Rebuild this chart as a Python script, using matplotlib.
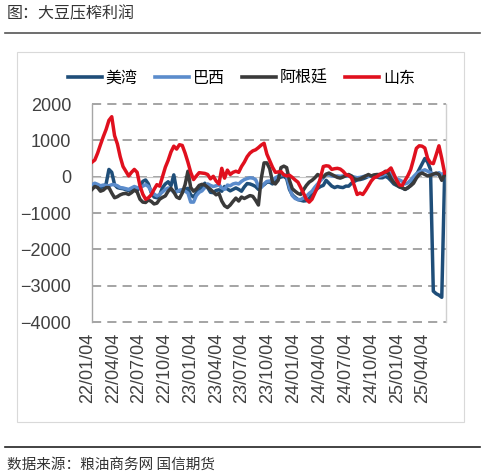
import numpy as np
import pandas as pd
import matplotlib
matplotlib.use("Agg")
from matplotlib import pyplot as plt
from matplotlib import dates as mdates
from matplotlib import transforms
from matplotlib.lines import Line2D
from matplotlib.patches import Rectangle

plt.rcParams['font.family'] = ['Liberation Sans', 'Noto Sans CJK SC', 'DejaVu Sans']

# 10-day sampled crush margin, yuan/ton
dates = pd.date_range("2022-01-04", periods=126, freq="10D")

us_gulf = [-300, -220, -250, -300, -280, -200, 200, 120, -220, -300,
           -320, -330, -360, -380, -350, -330, -380, -300, -130, -90,
           -200, -440, -560, -580, -500, -300, -200, -140, -250, 50,
           -380, -400, -370, -350, -320, -500, -560, -450, -330, -300,
           -180, -300, -430, -440, -380, -360, -400, -270, -340, -390,
           -350, -310, -350, -400, -280, -190, -200, -230, -270, -350,
           -270, -220, -150, -150, -200, -120, -40, -10, 10, -50,
           -350, -500, -570, -630, -650, -670, -660, -600, -490, -400,
           -320, -270, -240, -100, -180, -260, -300, -270, -290, -300,
           -260, -260, -180, -130, -90, -80, -60, -30, 10, 10,
           10, -10, -30, -30, 10, -30, -110, -200, -240, -280,
           -310, -350, -310, -230, -120, 50, 200, 350, 500, 400,
           200, -3150, -3220, -3260, -3320, 20]

brazil = [-220, -180, -210, -250, -230, -240, -250, -220, -220, -250,
          -300, -310, -330, -350, -310, -270, -300, -310, -260, -220,
          -270, -400, -480, -530, -490, -420, -350, -310, -350, -430,
          -420, -370, -360, -400, -450, -700, -700, -520, -430, -390,
          -300, -200, -240, -270, -250, -220, -310, -350, -230, -250,
          -200, -180, -200, -130, -80, -50, -30, -40, -80, -260,
          -300, -200, -130, -120, -100, -30, 10, 50, 60, 30,
          -300, -520, -600, -630, -630, -580, -540, -460, -400, -290,
          -200, -110, -30, 60, 50, 20, 10, 20, 10, 20,
          10, 20, 10, -10, -30, -20, 0, 20, 10, 20,
          10, 20, 10, 40, 70, 150, 70, -10, -60, -90,
          -130, -200, -170, -90, 0, 80, 120, 160, 190, 150,
          110, 80, 70, 110, 60, 100]

argentina = [-350, -270, -300, -400, -370, -300, -300, -450, -580, -550,
             -500, -470, -460, -490, -440, -370, -420, -620, -700, -710,
             -640, -680, -750, -730, -620, -570, -530, -400, -320, -420,
             -560, -600, -450, -220, 150, -300, -400, -340, -240, -210,
             -230, -290, -350, -420, -500, -460, -670, -800, -850, -780,
             -680, -590, -670, -560, -600, -560, -520, -540, -650, -780,
             -50, 380, 380, 220, -150, -200, -100, 250, 290, 250,
             -100, -330, -400, -460, -490, -360, -240, -150, -100, -30,
             60, 20, -10, 70, 100, 60, 20, -20, -40, -10,
             30, 60, 20, -60, -80, -60, -20, 20, 60, 20,
             50, 60, 60, 80, 150, 100, -50, -150, -220, -280,
             -300, -350, -300, -250, -180, -40, 60, 100, 60, 20,
             40, 70, 100, 60, -100, 50]

shandong = [400, 460, 650, 880, 1100, 1300, 1550, 1650, 1130, 900,
            550, 280, 150, 20, 120, 200, 120, -250, -480, -620,
            -580, -500, -350, -220, -260, 0, 260, 450, 680, 840,
            760, 880, 860, 650, 400, 120, -80, 20, 110, 100,
            90, 60, -60, 10, -120, -200, 230, -40, 180, 60,
            120, 150, 120, 280, 400, 550, 650, 710, 740, 800,
            870, 920, 620, 440, 260, 120, 130, 140, 50, 20,
            40, -20, -90, -150, -300, -460, -620, -700, -620, -450,
            -280, -30, 280, 300, 290, 200, 220, 230, 210, 150,
            60, 30, -30, -250, -490, -450, -490, -380, -250, -120,
            -30, 0, 60, 100, 130, 170, 240, 70, -100, -230,
            -240, -100, 30, 200, 480, 780, 850, 840, 790, 500,
            380, 360, 600, 850, 500, 100]

names = ["美湾", "巴西", "阿根廷", "山东"]
colors = ["#1f4e79", "#5b8ccc", "#3a3a3a", "#e0101e"]
series = [us_gulf, brazil, argentina, shandong]

fig = plt.figure(figsize=(4.86, 4.73), dpi=100)

# outer decorations
fig.add_artist(Line2D([0.0103, 0.9877], [0.930, 0.930], color="#555555", lw=1.2))
fig.add_artist(Line2D([0.0103, 0.9877], [0.054, 0.054], color="#222222", lw=1.2))
fig.add_artist(Rectangle((0.035, 0.108), 0.92, 0.782, fill=False,
                         edgecolor="#d9d9d9", lw=0.8))
fig.text(0.0144, 0.970, "图：大豆压榨利润", fontsize=11.5, color="#333333",
         va="center", ha="left", family=["Noto Sans CJK SC", "DejaVu Sans"])
fig.text(0.0144, 0.017, "数据来源：粮油商务网 国信期货", fontsize=10.5, color="#333333",
         va="center", ha="left", family=["Noto Sans CJK SC", "DejaVu Sans"])

ax = fig.add_axes([0.1893, 0.3192, 0.7284, 0.4609])

ax.axhline(0, color="#c8c8c8", lw=0.8, zorder=1)
for i, (name, vals) in enumerate(zip(names, series)):
    ax.plot(dates, vals, color=colors[i], lw=2.5, label=name, zorder=2 + i,
            solid_joinstyle="round")

ax.set_ylim(-4000, 2000)
ax.set_yticks(np.arange(-4000, 2001, 1000))
ax.set_xlim(pd.Timestamp("2022-01-04"), pd.Timestamp("2025-06-12"))
ax.xaxis.set_major_locator(mdates.MonthLocator(bymonth=[1, 4, 7, 10], bymonthday=4))
ax.xaxis.set_major_formatter(mdates.DateFormatter("%y/%m/%d"))

ax.yaxis.grid(True, color="#8c8c8c", lw=1.1, linestyle=(0, (6, 4)))
for gl in ax.get_ygridlines():
    gl.set_clip_on(False)
ax.set_axisbelow(True)

for s in ["top", "bottom"]:
    ax.spines[s].set_visible(False)
for s in ["left", "right"]:
    ax.spines[s].set_color("#a6a6a6")
    ax.spines[s].set_linewidth(1.0)
ax.spines["right"].set_color("#d0d0d0")

ax.tick_params(axis="y", length=0, pad=15, labelsize=13, labelcolor="#404040")
ax.tick_params(axis="x", length=0, pad=8, labelsize=13, labelcolor="#404040",
               labelrotation=90)
shift = transforms.ScaledTranslation(-4 / 100, 0, fig.dpi_scale_trans)
for lbl in ax.get_xticklabels():
    lbl.set_transform(lbl.get_transform() + shift)

fig.legend(loc="center", bbox_to_anchor=(0.497, 0.835), ncol=4, frameon=False,
           handlelength=2.1, handletextpad=0.25, columnspacing=1.1,
           prop={"family": ["Noto Sans CJK SC", "DejaVu Sans"], "size": 11.5})
for lh in fig.legends[0].get_lines():
    lh.set_linewidth(2.6)

fig.savefig("out.png", dpi=100)
